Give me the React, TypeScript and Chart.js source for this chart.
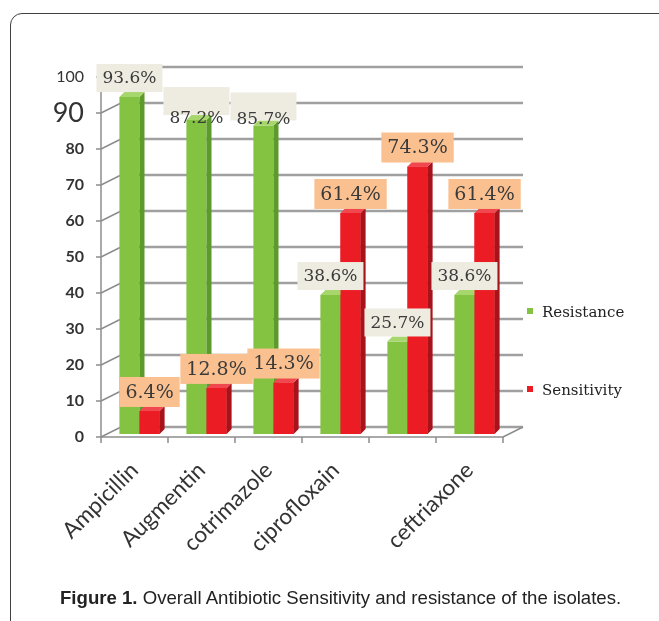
import React, { useEffect, useRef } from "react";
import { Chart, registerables } from "chart.js";

Chart.register(...registerables);

// ---- data ----
const CATEGORIES = ["Ampicillin", "Augmentin", "cotrimazole", "ciprofloxain", "", "ceftriaxone"];
const RESISTANCE = [93.6, 87.2, 85.7, 38.6, 25.7, 38.6];
const SENSITIVITY = [6.4, 12.8, 14.3, 61.4, 74.3, 61.4];
const SERIES_NAMES = ["Resistance", "Sensitivity"];
const Y_MIN = 0;
const Y_MAX = 100;
const Y_STEP = 10;

// ---- styling ----
const FRONT = ["#84c241", "#ec1c24"];
const SIDE_C = ["#5b9a2b", "#a8121a"];
const TOP_C = ["#a6d66c", "#f0484e"];
const BOX_C = ["#eeece1", "#fac090"];
const LABEL_SIZE = [17, 19];
// vertical text drop inside boxes (the original's crowded labels)
const TEXT_DROP = [
  [0, 16, 12, 0, 0, 0],
  [0, 0, 0, 0, 0, 0],
];
const DX = 20; // wall depth x
const DY = 10; // wall depth y
const SHIFT_X = 5; // bars sit inside depth
const SHIFT_Y = 3;
const SIDE = 5;

function poly(ctx: CanvasRenderingContext2D, pts: number[][], fill: string) {
  ctx.beginPath();
  ctx.moveTo(pts[0][0], pts[0][1]);
  for (let i = 1; i < pts.length; i++) ctx.lineTo(pts[i][0], pts[i][1]);
  ctx.closePath();
  ctx.fillStyle = fill;
  ctx.fill();
}

function seg(ctx: CanvasRenderingContext2D, x1: number, y1: number, x2: number, y2: number) {
  ctx.beginPath();
  ctx.moveTo(x1, y1);
  ctx.lineTo(x2, y2);
  ctx.stroke();
}

const threeD = {
  id: "threeD",
  beforeDatasetsDraw(chart: any) {
    const { ctx, chartArea: a, scales } = chart;
    const ys = scales.y;
    ctx.save();
    // back wall gridlines
    ctx.strokeStyle = "#a0a0a0";
    ctx.lineWidth = 2.5;
    ys.ticks.forEach((t: any) => {
      const py = ys.getPixelForValue(t.value);
      seg(ctx, a.left + DX, py - DY, a.right + DX, py - DY);
    });
    // left wall diagonals + tick marks
    ctx.lineWidth = 1.5;
    ctx.strokeStyle = "#8c8c8c";
    ys.ticks.forEach((t: any) => {
      const py = ys.getPixelForValue(t.value);
      seg(ctx, a.left, py, a.left + DX, py - DY);
      seg(ctx, a.left - 5, py, a.left, py);
    });
    // vertical axis
    seg(ctx, a.left, a.top - 2, a.left, a.bottom);
    // floor front + right edge
    seg(ctx, a.left, a.bottom, a.right, a.bottom);
    seg(ctx, a.right, a.bottom, a.right + DX, a.bottom - DY);
    // x tick marks at category boundaries
    const n = CATEGORIES.length;
    for (let i = 0; i <= n; i++) {
      const px = a.left + ((a.right - a.left) * i) / n;
      seg(ctx, px, a.bottom, px, a.bottom + 6);
    }
    ctx.restore();
    ctx.save();
    ctx.translate(SHIFT_X, -SHIFT_Y);
  },
  afterDatasetsDraw(chart: any) {
    const { ctx } = chart;
    chart.data.datasets.forEach((ds: any, di: number) => {
      const meta = chart.getDatasetMeta(di);
      meta.data.forEach((bar: any) => {
        if (di > 0) bar.draw(ctx);
        const p = bar.getProps(["x", "y", "base", "width"], true);
        const l = p.x - p.width / 2;
        const r = p.x + p.width / 2;
        poly(ctx, [[r, p.y], [r + SIDE, p.y - SIDE], [r + SIDE, p.base - SIDE], [r, p.base]], SIDE_C[di]);
        poly(ctx, [[l, p.y], [l + SIDE, p.y - SIDE], [r + SIDE, p.y - SIDE], [r, p.y]], TOP_C[di]);
      });
    });
    ctx.restore();
  },
  afterDraw(chart: any) {
    const { ctx, chartArea: a } = chart;
    ctx.save();
    // data labels
    chart.data.datasets.forEach((ds: any, di: number) => {
      const meta = chart.getDatasetMeta(di);
      meta.data.forEach((bar: any, i: number) => {
        const p = bar.getProps(["x", "y"], true);
        const txt = ds.data[i].toFixed(1) + "%";
        ctx.font = `${LABEL_SIZE[di]}px "DejaVu Serif"`;
        const w = ctx.measureText(txt).width;
        const cx = p.x + SHIFT_X;
        const cy = p.y - SHIFT_Y - 19;
        const bw = w + 12;
        const bh = LABEL_SIZE[di] + 11;
        ctx.fillStyle = BOX_C[di];
        ctx.fillRect(cx - bw / 2, cy - bh / 2, bw, bh);
        ctx.fillStyle = "#3a3a3a";
        ctx.textAlign = "center";
        ctx.textBaseline = "middle";
        ctx.fillText(txt, cx, cy + 1 + TEXT_DROP[di][i]);
      });
    });
    // legend
    const lx = a.right + 24;
    const ly = [312, 390];
    chart.data.datasets.forEach((ds: any, di: number) => {
      ctx.fillStyle = FRONT[di];
      ctx.fillRect(lx, ly[di] - 4, 6, 6);
      ctx.fillStyle = "#222";
      ctx.font = `15px "DejaVu Serif"`;
      ctx.textAlign = "left";
      ctx.textBaseline = "middle";
      ctx.fillText(ds.label, lx + 15, ly[di] + 1);
    });
    ctx.restore();
  },
};

export default function App() {
  const ref = useRef<HTMLCanvasElement>(null);
  useEffect(() => {
    if (!ref.current) return;
    const chart = new Chart(ref.current, {
      type: "bar",
      data: {
        labels: CATEGORIES,
        datasets: [
          { label: SERIES_NAMES[0], data: RESISTANCE, backgroundColor: FRONT[0], borderWidth: 0 },
          { label: SERIES_NAMES[1], data: SENSITIVITY, backgroundColor: FRONT[1], borderWidth: 0 },
        ],
      },
      options: {
        responsive: false,
        animation: false,
        events: [],
        layout: { padding: { top: 77, right: 156, left: 0, bottom: 0 } },
        datasets: { bar: { categoryPercentage: 0.6, barPercentage: 1.0 } },
        plugins: { legend: { display: false }, tooltip: { enabled: false }, title: { display: false } },
        scales: {
          x: {
            grid: { display: false },
            border: { display: false },
            ticks: {
              autoSkip: false,
              maxRotation: 45,
              minRotation: 45,
              padding: 12,
              color: "#333",
              font: { family: "Lato", size: 22.5 },
            },
            afterFit: (s: any) => {
              s.height = 184;
            },
          },
          y: {
            min: Y_MIN,
            max: Y_MAX,
            grid: { display: false },
            border: { display: false },
            ticks: {
              stepSize: Y_STEP,
              padding: 9,
              color: "#333",
              font: (c: any) =>
                c.tick && c.tick.value === 90
                  ? { family: "Lato", size: 27 }
                  : c.tick && c.tick.value === 100
                  ? { family: "Lato", size: 16 }
                  : { family: "Lato", size: 16, weight: "bold" },
            },
            afterFit: (s: any) => {
              s.width = 101;
            },
          },
        },
      },
      plugins: [threeD],
    });
    return () => chart.destroy();
  }, []);

  return (
    <div style={{ position: "absolute", left: 0, top: 0, width: 659, height: 621, overflow: "hidden", background: "#fff" }}>
      <div
        style={{
          position: "absolute",
          left: 10,
          top: 13,
          width: 800,
          height: 800,
          border: "1.5px solid #404040",
          borderTopLeftRadius: 12,
        }}
      />
      <canvas ref={ref} width={659} height={621} style={{ position: "absolute", left: 0, top: 0, width: 659, height: 621 }} />
      <div
        style={{
          position: "absolute",
          left: 60,
          top: 586,
          whiteSpace: "nowrap",
          fontFamily: '"Liberation Sans", Arial, sans-serif',
          fontSize: 18.6,
          lineHeight: "24px",
          color: "#222",
        }}
      >
        <b>Figure 1.</b> Overall Antibiotic Sensitivity and resistance of the isolates.
      </div>
    </div>
  );
}
